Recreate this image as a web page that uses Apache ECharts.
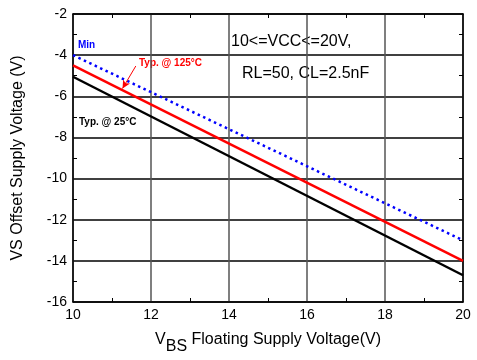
<!DOCTYPE html>
<html>
<head>
<meta charset="utf-8">
<script src="https://cdn.jsdelivr.net/npm/echarts@6/dist/echarts.min.js"></script>
<style>
  html, body { margin: 0; padding: 0; background: #fff; }
  #chart { width: 477px; height: 360px; }
</style>
</head>
<body>
<div id="chart"></div>
<script>
// values
const vbs = [10, 20]
const minVs = [-4.0, -13.0]
const typ125 = [-4.5, -14.0]
const typ25 = [-5.05, -14.7]
const xTicks = [10, 12, 14, 16, 18, 20]
const yTicks = [-16, -14, -12, -10, -8, -6, -4, -2]

const font = 'Arial, "Liberation Sans", sans-serif'
const pairs = (ys) => vbs.map((x, i) => [x, ys[i]])

const chart = echarts.init(document.getElementById('chart'))

const baseX = {
  type: 'value',
  min: xTicks[0],
  max: xTicks[xTicks.length - 1],
  interval: 2,
  axisLine: { show: true, lineStyle: { color: '#000', width: 1.5 } },
  axisTick: { show: false },
  minorTick: { show: true, splitNumber: 2, length: 4, lineStyle: { color: '#000' } },
  splitLine: { show: false }
}
const baseY = {
  type: 'value',
  min: yTicks[0],
  max: yTicks[yTicks.length - 1],
  interval: 2,
  axisLine: { show: true, lineStyle: { color: '#000', width: 1.5 } },
  axisTick: { show: false },
  minorTick: { show: true, splitNumber: 2, length: 4, lineStyle: { color: '#000' } },
  splitLine: { show: false }
}

const option = {
  animation: false,
  backgroundColor: '#fff',
  grid: { left: 73, right: 14, top: 14, bottom: 55, containLabel: false },
  xAxis: [
    Object.assign({}, baseX, {
      position: 'bottom',
      axisTick: { show: false, inside: true },
      axisLabel: { color: '#000', fontSize: 14, fontFamily: font, margin: 6 },
      splitLine: { show: true, lineStyle: { color: '#555', width: 1.5 } },
      name: '{v|V}{s|BS}{t| Floating Supply Voltage(V)}',
      nameLocation: 'middle',
      nameGap: 30,
      nameTextStyle: {
        rich: {
          v: { fontSize: 16, fontFamily: font, color: '#000', lineHeight: 22, verticalAlign: 'top' },
          s: { fontSize: 16, fontFamily: font, color: '#000', lineHeight: 22, padding: [8, 0, 0, 0] },
          t: { fontSize: 16, fontFamily: font, color: '#000', lineHeight: 22, verticalAlign: 'top' }
        }
      }
    }),
    Object.assign({}, baseX, {
      position: 'top',
      axisTick: { show: false, inside: true },
      axisLabel: { show: false }
    })
  ],
  yAxis: [
    Object.assign({}, baseY, {
      position: 'left',
      axisTick: { show: false, inside: true },
      axisLabel: { color: '#000', fontSize: 14, fontFamily: font, margin: 6 },
      splitLine: { show: true, lineStyle: { color: '#000', width: 1.5 } },
      name: 'VS Offset Supply Voltage (V)',
      nameLocation: 'middle',
      nameGap: 47,
      nameTextStyle: { color: '#000', fontSize: 16, fontFamily: font }
    }),
    Object.assign({}, baseY, {
      position: 'right',
      axisTick: { show: false, inside: true },
      axisLabel: { show: false }
    })
  ],
  series: [
    {
      name: 'Min',
      type: 'line',
      data: pairs(minVs),
      symbol: 'none',
      lineStyle: { color: '#0000ff', width: 2.5, type: [2.5, 3.5] }
    },
    {
      name: 'Typ. @ 125°C',
      type: 'line',
      data: pairs(typ125),
      symbol: 'none',
      lineStyle: { color: '#ff0000', width: 2.5 },
      markLine: {
        silent: true,
        symbol: ['none', 'arrow'],
        symbolSize: [6, 8],
        lineStyle: { color: '#ff0000', width: 1, type: 'solid' },
        label: { show: false },
        data: [[{ coord: [11.61, -4.53] }, { coord: [11.27, -5.62] }]]
      }
    },
    {
      name: 'Typ. @ 25°C',
      type: 'line',
      data: pairs(typ25),
      symbol: 'none',
      lineStyle: { color: '#000', width: 2.5 }
    }
  ],
  graphic: [
    { type: 'text', left: 78, top: 40, style: { text: 'Min', fill: '#0000ff', font: 'bold 10px ' + font } },
    { type: 'text', left: 139, top: 58, style: { text: 'Typ. @ 125°C', fill: '#ff0000', font: 'bold 10px ' + font } },
    { type: 'text', left: 79, top: 117, style: { text: 'Typ. @ 25°C', fill: '#000', font: 'bold 10px ' + font } },
    { type: 'text', left: 231, top: 34, style: { text: '10<=VCC<=20V,', fill: '#000', font: '16px ' + font } },
    { type: 'text', left: 242, top: 66, style: { text: 'RL=50, CL=2.5nF', fill: '#000', font: '16px ' + font } }
  ]
}

chart.setOption(option)
</script>
</body>
</html>
